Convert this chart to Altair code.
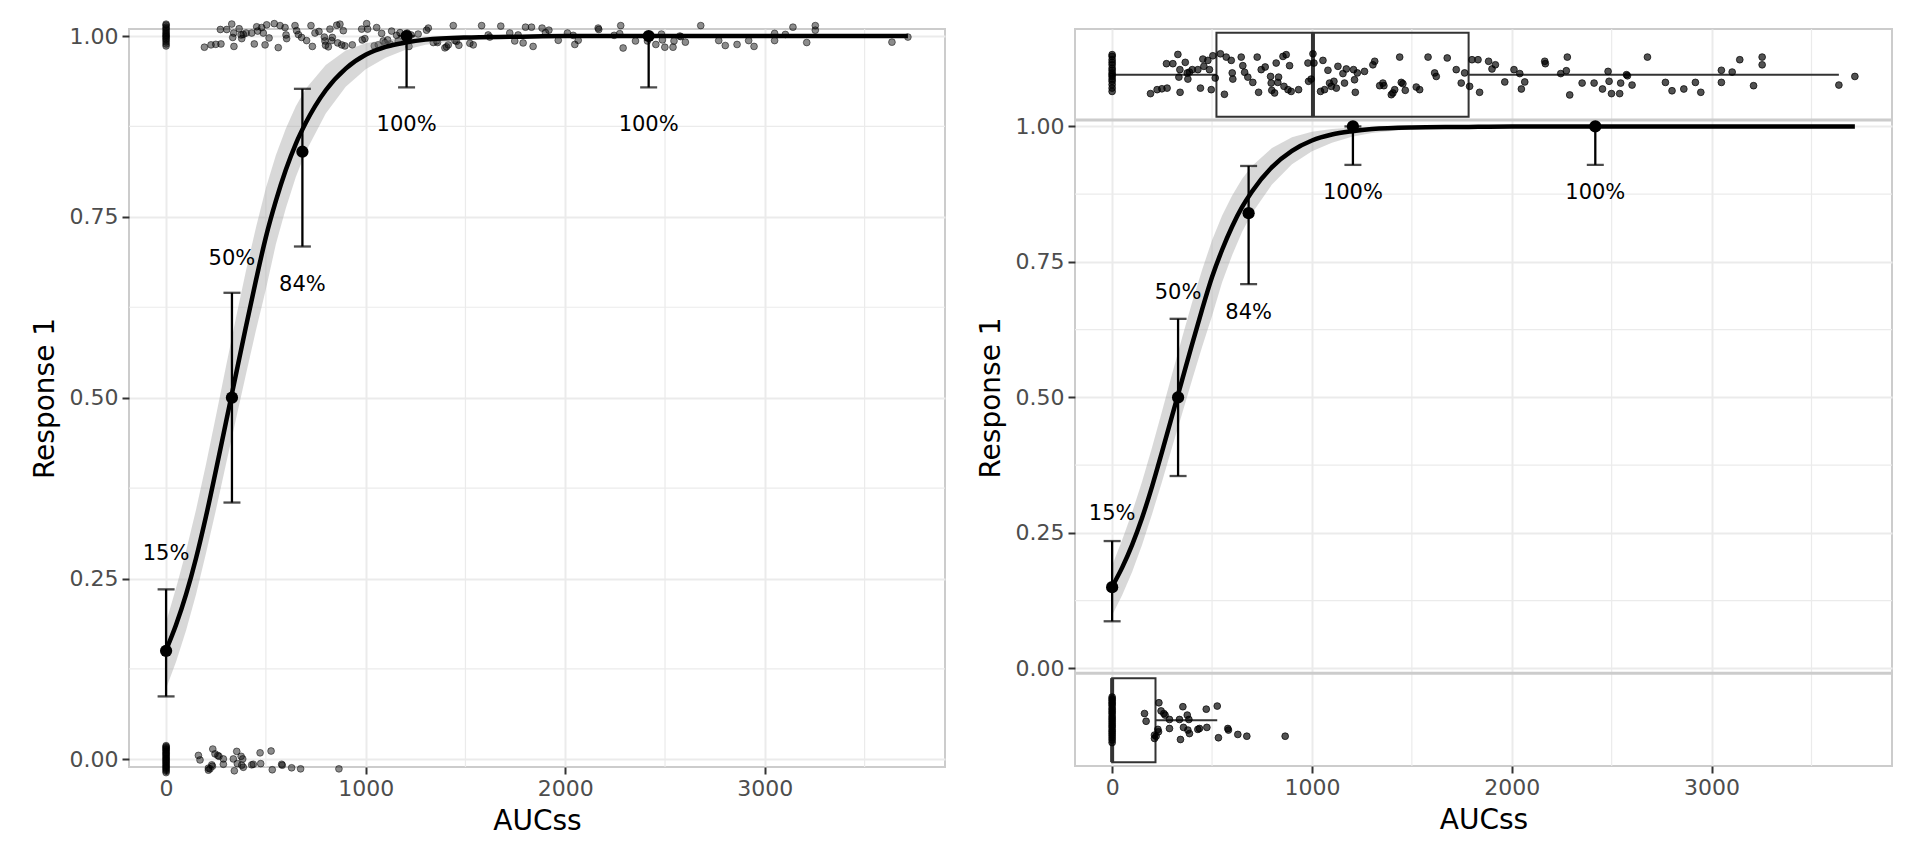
import altair as alt
import pandas as pd

FONT = "DejaVu Sans"

# ---------------- data ----------------
# responders (Response 1 = 1): exposure and vertical jitter (in strip units, -1..1)
resp_x = [0] * 15 + [
    192, 225, 249, 275, 272, 304, 329, 339, 334, 340, 366, 376, 379, 387, 401,
    429, 442, 454, 459, 479, 487, 496, 504, 516, 542, 562, 571, 596, 601, 604,
    646, 654, 663, 679, 704, 726, 733, 746, 766, 793, 796, 799, 813, 821, 829,
    833, 855, 860, 871, 880, 888, 896, 933, 980, 983, 996, 1005, 1010, 1043, 1055,
    1063, 1080, 1088, 1097, 1110, 1122, 1130, 1155, 1163, 1172, 1208, 1213, 1217, 1227, 1263,
    1305, 1314, 1339, 1355, 1360, 1397, 1405, 1414, 1439, 1447, 1455, 1467, 1522, 1539, 1581,
    1614, 1622, 1677, 1722, 1747, 1764, 1789, 1801, 1831, 1839,
    1884, 1901, 1918, 1965, 2011, 2040, 2048, 2065, 2165, 2168, 2245, 2273, 2278, 2290, 2352,
    2412, 2454, 2482, 2487, 2499, 2540, 2545, 2574, 2579, 2602, 2679, 2769, 2802, 2861, 2919,
    2946, 3049, 3049, 3103, 3141, 3210, 3253, 3253, 3637, 3717]
resp_j = [0.91, 0.83, 0.68, 0.56, 0.45, 0.30, 0.20, 0.08, 0.0, -0.08, -0.20, -0.30, -0.45, -0.61, -0.76] + [
    -0.86, -0.68, -0.64, -0.61, 0.5, 0.5, 0.92, 0.23, -0.11, -0.8, 0.56, 0.08, -0.2, 0.12, 0.23,
    0.23, -0.61, 0.71, 0.38, 0.65, 0.23, -0.68, 0.86, -0.15, 0.95, -0.89, 0.8, 0.65, 0.08, -0.2,
    0.8, 0.41, 0.11, -0.11, -0.35, 0.8, -0.8, 0.23, 0.35, -0.08, -0.38, -0.71, -0.83, 0.53, -0.35,
    -0.11, 0.83, -0.53, 0.91, -0.68, 0.41, -0.76, -0.68, 0.53, -0.3, -0.2, 0.95, 0.53, -0.76, 0.65,
    -0.68, 0.2, -0.38, -0.53, -0.3, -0.61, 0.38, 0.05, -0.38, 0.26, 0.23, -0.23, -0.8, 0.08, 0.15,
    0.45, 0.61, -0.5, -0.38, -0.5, -0.91, -0.83, -0.68, 0.8, -0.35, -0.41, -0.71, -0.56, -0.68, 0.8,
    0.08, -0.08, 0.76, 0.23, -0.38, 0.08, -0.53, 0.68, 0.68, -0.8,
    0.61, 0.26, 0.45, -0.33, 0.23, 0.05, -0.65, -0.33, 0.61, 0.5, 0.05, 0.18, 0.8, -0.92, -0.38,
    -0.38, -0.65, 0.15, -0.3, -0.86, -0.86, -0.38, 0.0, -0.05, -0.47, 0.8, -0.35, -0.73, -0.65, -0.35,
    -0.8, 0.2, -0.35, 0.12, 0.68, -0.5, 0.8, 0.45, -0.47, -0.08]

# non-responders (Response 1 = 0)
nonresp_x = [0] * 24 + [
    162, 170, 234, 245, 259, 265, 287, 287, 229, 232, 212, 212, 220, 337, 342, 354,
    357, 376, 379, 384, 387, 429, 437, 471, 474, 526, 532, 579, 582, 629, 674, 866]
nonresp_j = [1.05, 0.97, 0.9, 0.81, 0.74, 0.66, 0.55, 0.47, 0.38, 0.3, 0.19, 0.1,
             0.02, -0.07, -0.16, -0.25, -0.33, -0.44, -0.52, -0.61, -0.7, -0.8, -0.9, -1.02] + [
    0.30, -0.05, 0.79, 0.42, 0.30, 0.23, 0.03, -0.38, -0.42, -0.53, -0.68, -0.83, -0.73, 0.03, -0.88, 0.61,
    -0.33, 0.23, -0.45, 0.03, -0.61, -0.42, -0.38, 0.5, -0.33, 0.64, -0.8, -0.38, -0.45, -0.65, -0.73, -0.73]

# observed response by exposure group
group_x = [0, 330, 683, 1205, 2418]
group_p = [0.15, 0.50, 0.84, 1.00, 1.00]
group_lo = [0.087, 0.355, 0.709, 0.929, 0.929]
group_hi = [0.235, 0.645, 0.927, 1.00, 1.00]
group_label = ["15%", "50%", "84%", "100%", "100%"]
group_label_y = [0.284, 0.692, 0.656, 0.877, 0.877]

# fitted logistic curve with its confidence band
curve_x = [0, 50, 100, 150, 200, 250, 300, 350, 400, 450, 500, 550, 600, 650, 700,
           800, 900, 1000, 1100, 1200, 1300, 1500, 1750, 2000, 2500, 3000, 3717]
curve_p = [0.151, 0.186, 0.228, 0.278, 0.336, 0.400, 0.466, 0.532, 0.598, 0.662, 0.722, 0.772, 0.815,
           0.851, 0.880, 0.925, 0.955, 0.974, 0.985, 0.991, 0.995, 0.998, 0.999, 1.0, 1.0, 1.0, 1.0]
curve_lo = [0.098, 0.135, 0.178, 0.228, 0.285, 0.345, 0.408, 0.470, 0.532, 0.593, 0.650, 0.712, 0.762,
            0.805, 0.840, 0.893, 0.930, 0.954, 0.970, 0.981, 0.988, 0.995, 0.998, 0.999, 1.0, 1.0, 1.0]
curve_hi = [0.190, 0.237, 0.288, 0.345, 0.408, 0.475, 0.543, 0.610, 0.675, 0.735, 0.790, 0.835, 0.872,
            0.903, 0.927, 0.960, 0.980, 0.990, 0.995, 0.998, 0.999, 1.0, 1.0, 1.0, 1.0, 1.0, 1.0]

# box plot statistics of exposure per response (side panels)
box_resp = [1, 0]
box_q1 = [522, 0]
box_med = [1005, 0]
box_q3 = [1784, 217]
box_wlo = [0, 0]
box_whi = [3637, 526]

x_ticks = [0, 1000, 2000, 3000]
x_minor = [500, 1500, 2500, 3500]
y_ticks = [0, 0.25, 0.5, 0.75, 1.0]
y_minor = [0.125, 0.375, 0.625, 0.875]

# ---------------- tables ----------------
pts = pd.DataFrame({
    "x": resp_x + nonresp_x,
    "j": resp_j + nonresp_j,
    "resp": [1] * len(resp_x) + [0] * len(nonresp_x),
})
grp = pd.DataFrame({"x": group_x, "p": group_p, "lo": group_lo, "hi": group_hi,
                    "label": group_label, "ly": group_label_y})
crv = pd.DataFrame({"x": curve_x, "p": curve_p, "lo": curve_lo, "hi": curve_hi})
STRIP_TOP, STRIP_BOT, BOX_HALF = 1.0954, -0.0954, 0.0775
box = pd.DataFrame({"resp": box_resp, "q1": box_q1, "med": box_med, "q3": box_q3,
                    "wlo": box_wlo, "whi": box_whi})
box["c"] = [STRIP_TOP if r == 1 else STRIP_BOT for r in box_resp]
box["b0"] = box["c"] - BOX_HALF
box["b1"] = box["c"] + BOX_HALF
xminor_df = pd.DataFrame({"v": x_minor})
yminor_df = pd.DataFrame({"v": y_minor})

XDOM = [-185.85, 3902.85]
XAXIS = alt.Axis(values=x_ticks, format="d", title="AUCss", titlePadding=8)
YAXIS = alt.Axis(values=y_ticks, format=".2f", title="Response 1", titlePadding=10)


def X(field, ydom):
    return alt.X(field, type="quantitative", scale=alt.Scale(domain=XDOM, nice=False, zero=False), axis=XAXIS)


def Y(field, ydom):
    return alt.Y(field, type="quantitative", scale=alt.Scale(domain=ydom, nice=False, zero=False), axis=YAXIS)


def common_layers(ydom):
    ribbon = alt.Chart(crv).mark_area(color="#999999", opacity=0.38).encode(
        x=X("x", ydom), y=Y("lo", ydom), y2="hi")
    line = alt.Chart(crv).mark_line(color="black", strokeWidth=4.5, interpolate="monotone").encode(
        x=X("x", ydom), y=Y("p", ydom))
    err = alt.Chart(grp).mark_rule(color="black", strokeWidth=2.3).encode(
        x=X("x", ydom), y=Y("lo", ydom), y2="hi")
    cap_lo = alt.Chart(grp).mark_tick(color="black", orient="horizontal", size=17, thickness=2.3).encode(
        x=X("x", ydom), y=Y("lo", ydom))
    cap_hi = alt.Chart(grp).mark_tick(color="black", orient="horizontal", size=17, thickness=2.3).encode(
        x=X("x", ydom), y=Y("hi", ydom))
    means = alt.Chart(grp).mark_circle(color="black", size=150, opacity=1).encode(
        x=X("x", ydom), y=Y("p", ydom))
    labels = alt.Chart(grp).mark_text(font=FONT, fontSize=21, color="black", align="center",
                                      baseline="middle").encode(
        x=X("x", ydom), y=Y("ly", ydom), text="label:N")
    return [ribbon, line, err, cap_lo, cap_hi, means, labels]


def minor_grid(ydom):
    gx = alt.Chart(xminor_df).mark_rule(color="#EBEBEB", strokeWidth=1.2).encode(x=X("v", ydom))
    gy = alt.Chart(yminor_df).mark_rule(color="#EBEBEB", strokeWidth=1.2).encode(y=Y("v", ydom))
    return [gx, gy]


# ---------------- left panel ----------------
YL = [-0.0106, 1.0097]
left_pts = alt.Chart(pts).transform_calculate(
    yy="datum.resp + datum.j * 0.018"
).mark_circle(size=46, color="black", fillOpacity=0.45, stroke="black", strokeOpacity=0.5,
              strokeWidth=1).encode(x=X("x", YL), y=Y("yy", YL))

left = alt.layer(*minor_grid(YL), left_pts, *common_layers(YL)).properties(width=816, height=738)

# ---------------- right panel ----------------
YR = [-0.180, 1.1797]
sep_df = pd.DataFrame({"v": [1.0117, -0.0087]})
seps = alt.Chart(sep_df).mark_rule(color="#CCCCCC", strokeWidth=3).encode(y=Y("v", YR))

box_rect = alt.Chart(box).mark_rect(fillOpacity=0, stroke="#333333", strokeWidth=2).encode(
    x=X("q1", YR), x2="q3", y=Y("b0", YR), y2="b1")
box_med_r = alt.Chart(box).mark_rule(color="#333333", strokeWidth=4).encode(
    x=X("med", YR), y=Y("b0", YR), y2="b1")
wh_lo = alt.Chart(box).mark_rule(color="#333333", strokeWidth=2).encode(
    x=X("wlo", YR), x2="q1", y=Y("c", YR))
wh_hi = alt.Chart(box).mark_rule(color="#333333", strokeWidth=2).encode(
    x=X("q3", YR), x2="whi", y=Y("c", YR))

right_pts = alt.Chart(pts).transform_calculate(
    yy=f"(datum.resp == 1 ? {STRIP_TOP} : {STRIP_BOT}) + datum.j * 0.0406"
).mark_circle(size=46, color="black", fillOpacity=0.68, stroke="black", strokeOpacity=0.7,
              strokeWidth=1).encode(x=X("x", YR), y=Y("yy", YR))

right = alt.layer(*minor_grid(YR), seps, box_rect, box_med_r, wh_lo, wh_hi, right_pts,
                  *common_layers(YR)).properties(width=817, height=737)

chart = alt.hconcat(left, right, spacing=130, bounds="flush").resolve_scale(
    x="independent", y="independent"
).properties(
    padding={"left": 22, "top": 9, "right": 5, "bottom": 5},
    background="white",
).configure_view(
    stroke="#CCCCCC", strokeWidth=2
).configure_axis(
    labelFont=FONT, labelFontSize=22, labelColor="#4D4D4D",
    titleFont=FONT, titleFontSize=28, titleColor="#000000", titleFontWeight="normal",
    tickColor="#333333", tickSize=7, tickWidth=2, domain=False,
    grid=True, gridColor="#EBEBEB", gridWidth=2, labelPadding=4,
)

chart.save("out.html", embed_options={"renderer": "svg", "actions": False})
